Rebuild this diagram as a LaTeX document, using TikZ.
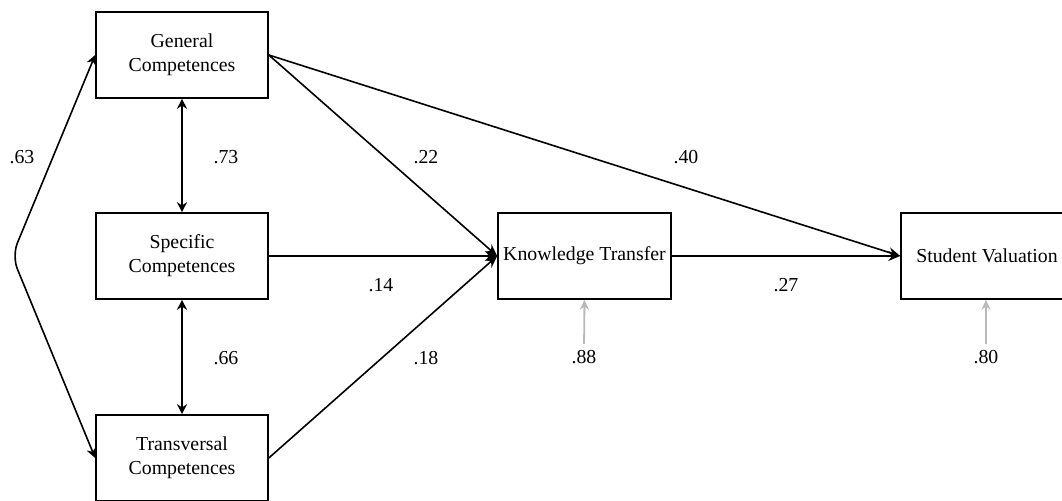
\documentclass[tikz,border=0pt]{standalone}
\usepackage{fontspec}
\setmainfont{Liberation Serif}
\usetikzlibrary{arrows.meta}
\begin{document}
\begin{tikzpicture}[x=0.5pt,y=-0.5pt,
  font=\fontsize{9.9}{12}\selectfont,
  var/.style={draw, line width=0.8pt, rectangle, minimum width=86pt, minimum height=43pt, align=center, inner sep=2pt},
  path/.style={line width=0.8pt, -{Stealth[length=6pt,width=5pt]}},
  corr/.style={line width=0.8pt, {Stealth[length=5pt,width=5pt]}-{Stealth[length=5pt,width=5pt]}},
  resid/.style={line width=0.9pt, draw={rgb,255:red,185;green,185;blue,185}, -{Stealth[length=5pt,width=4.5pt]}},
  coef/.style={inner sep=1pt}]
\useasboundingbox (0,0) rectangle (1062,501);
\clip (0,0) rectangle (1062,501);

% observed variables
\node[var] (G) at (182,55) {General\\Competences};
\node[var] (S) at (182,256) {Specific\\Competences};
\node[var] (T) at (182,458) {Transversal\\Competences};
\node[var, minimum width=86.5pt] (K) at (584.5,256) {Knowledge Transfer};
\node[var] (V) at (987,256) {Student Valuation};

% correlations among the competences
\draw[corr] (G.south) -- (S.north);
\draw[corr] (S.south) -- (T.north);
\coordinate (bend) at (12,256);
\draw[corr, rounded corners=7pt] (G.west) -- (bend) -- (T.west);

% structural paths
\draw[path] (G.east) -- (K.west);
\draw[path] (G.east) -- (V.west);
\draw[path] (S.east) -- (K.west);
\draw[path] (T.east) -- (K.west);
\draw[path] (K.east) -- (V.west);

% coefficients
\node[coef] at (22,157) {.63};
\node[coef] at (226,157) {.73};
\node[coef] at (226,358) {.66};
\node[coef] at (426,157) {.22};
\node[coef] at (686,157) {.40};
\node[coef] at (381,285) {.14};
\node[coef] at (426,358) {.18};
\node[coef] at (786,285) {.27};

% residuals
\node[coef] (eK) at (584,357) {.88};
\node[coef] (eV) at (986,357) {.80};
\draw[resid, shorten <=2pt] (eK.north) -- (K.south);
\draw[resid, shorten <=2pt] (eV.north) -- (eV.north |- V.south);
\end{tikzpicture}
\end{document}
